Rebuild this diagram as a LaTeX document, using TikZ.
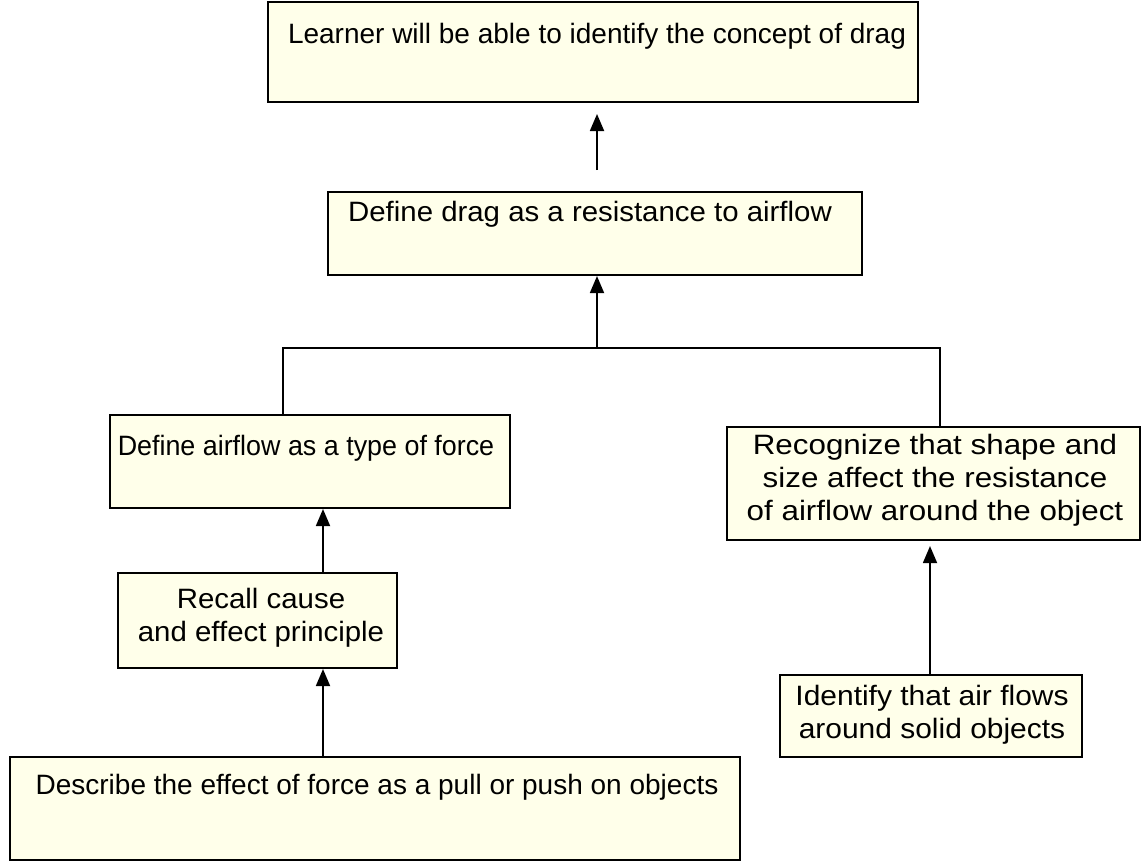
\documentclass[tikz,border=0pt]{standalone}
\usepackage{fontspec}
\setmainfont{Liberation Sans}
\newfontfamily\fwideA[FakeStretch=1.12]{Liberation Sans}
\newfontfamily\fwideB[FakeStretch=1.05]{Liberation Sans}
\newfontfamily\fwideC[FakeStretch=1.07]{Liberation Sans}
\newfontfamily\fnarrow[FakeStretch=0.96]{Liberation Sans}
\usetikzlibrary{arrows.meta}
\definecolor{boxfill}{RGB}{255,255,234}
\tikzset{
  box/.style={draw=black, line width=2.1pt, fill=boxfill, rectangle, inner sep=0pt},
  txt/.style={align=center, inner sep=0pt, font=\fontsize{28}{33}\selectfont},
  conn/.style={line width=1.8pt, draw=black},
  arr/.style={conn, -{Triangle[length=17pt,width=14pt]}}
}
\begin{document}
\begin{tikzpicture}[x=1pt,y=-1pt]
\useasboundingbox (0,0) rectangle (1148,867);
% boxes
\node[box, minimum width=650pt, minimum height=100pt] (b1) at (593,52) {};
\node[box, minimum width=534pt, minimum height=83pt] (b2) at (595,233.5) {};
\node[box, minimum width=400pt, minimum height=93pt] (b3) at (310,461.5) {};
\node[box, minimum width=413pt, minimum height=113pt] (b4) at (933.5,483.5) {};
\node[box, minimum width=279pt, minimum height=95pt] (b5) at (257.5,620.5) {};
\node[box, minimum width=730pt, minimum height=103pt] (b6) at (375,808.5) {};
\node[box, minimum width=302pt, minimum height=82pt] (b7) at (931,716) {};
% texts
\node[txt] (t1) at (597,36) {Learner will be able to identify the concept of drag};
\node[txt, font=\fontsize{28}{33}\fwideB] (t2) at (590,214) {Define drag as a resistance to airflow};
\node[txt, font=\fontsize{28}{33}\fnarrow] (t3) at (306,448) {Define airflow as a type of force};
\node[txt, font=\fontsize{28}{33}\fwideA] (t4) at (935,480) {Recognize that shape and\\size affect the resistance\\of airflow around the object};
\node[txt, font=\fontsize{28}{33}\fwideB] (t5) at (261,618) {Recall cause\\and effect principle};
\node[txt] (t6) at (377,787) {Describe the effect of force as a pull or push on objects};
\node[txt, font=\fontsize{28}{33}\fwideC] (t7) at (932,715) {Identify that air flows\\around solid objects};
% connectors
\coordinate (j) at (597,348);
\coordinate (a1s) at (597,170);
\coordinate (a1e) at (597,114);
\draw[arr] (a1s) -- (a1e);
\draw[arr] (j) -- (b2.south -| j);
\draw[conn] (b3.north -| 283,0) |- (j) -| (b4.north -| 940,0);
\draw[arr] (b5.north -| 323,0) -- (b3.south -| 323,0);
\draw[arr] (b7.north -| 930,0) -- ([yshift=-5pt]b4.south -| 930,0);
\draw[arr] (b6.north -| 323,0) -- (b5.south -| 323,0);
\end{tikzpicture}
\end{document}
